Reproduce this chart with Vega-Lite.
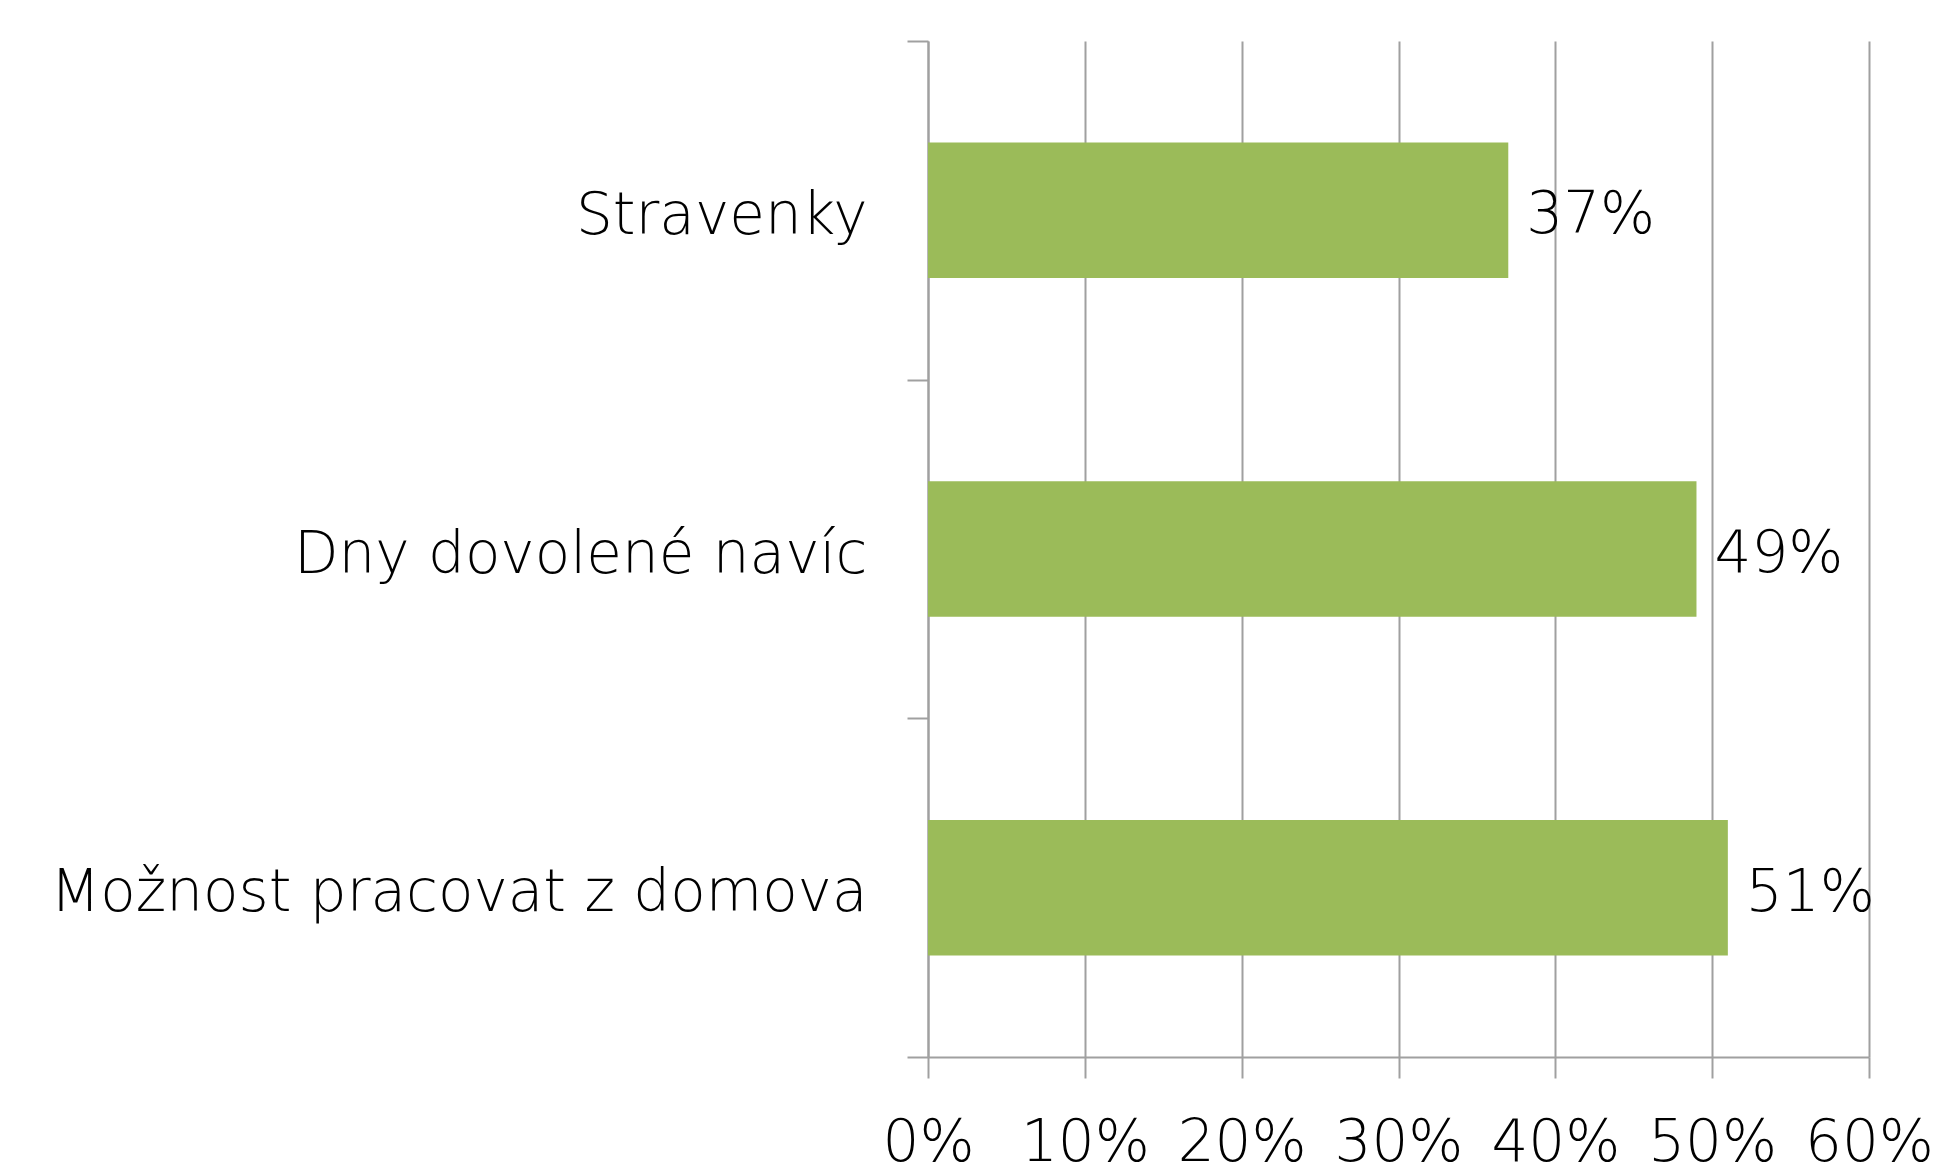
{
  "$schema": "https://vega.github.io/schema/vega-lite/v6.json",
  "width": 941,
  "height": 1016,
  "autosize": {"type": "none"},
  "padding": {"left": 928, "top": 41, "right": 68, "bottom": 113},
  "background": "white",
  "config": {"view": {"stroke": null}, "font": "DejaVu Sans"},
  "data": {"values": [
    {"kategorie": "Stravenky", "podil": 0.37},
    {"kategorie": "Dny dovolené navíc", "podil": 0.49},
    {"kategorie": "Možnost pracovat z domova", "podil": 0.51}
  ]},
  "encoding": {
    "y": {"field": "kategorie", "type": "nominal", "sort": null,
      "scale": {"paddingInner": 0, "paddingOuter": 0},
      "axis": {"title": null, "tickBand": "extent", "tickSize": 21, "tickColor": "#a0a0a0", "tickWidth": 2,
        "domainColor": "#a0a0a0", "domainWidth": 2, "labelFontSize": 58, "labelColor": "#000", "labelFont": "DejaVu Sans",
        "labelPadding": 40, "labelLimit": 1000, "labelFontWeight": 300, "labelOffset": 6, "grid": false}},
    "x": {"field": "podil", "type": "quantitative",
      "scale": {"domain": [0, 0.6], "nice": false},
      "axis": {"title": null, "format": ".0%", "values": [0, 0.1, 0.2, 0.3, 0.4, 0.5, 0.6], "tickSize": 21,
        "tickColor": "#a0a0a0", "tickWidth": 2, "domainColor": "#a0a0a0", "domainWidth": 2,
        "gridColor": "#a0a0a0", "gridWidth": 2, "labelFontSize": 58, "labelColor": "#000", "labelFont": "DejaVu Sans",
        "labelPadding": 36, "labelFontWeight": 300, "labelFlush": false}}
  },
  "layer": [
    {"mark": {"type": "bar", "color": "#9BBB59", "height": {"band": 0.4}}},
    {"mark": {"type": "text", "align": "left", "baseline": "middle", "dx": 18, "dy": 6, "fontSize": 58, "fontWeight": 300, "font": "DejaVu Sans", "color": "#000"},
      "encoding": {"text": {"field": "podil", "type": "quantitative", "format": ".0%"}}}
  ]
}
